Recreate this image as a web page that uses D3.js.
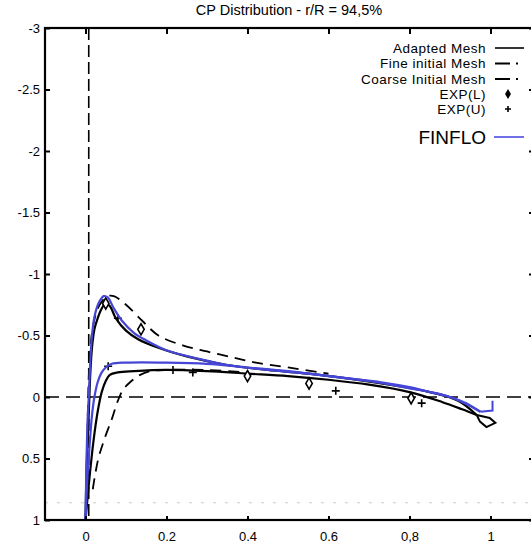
<!DOCTYPE html>
<html>
<head>
<meta charset="utf-8">
<script src="https://cdn.jsdelivr.net/npm/d3@7"></script>
<style>
  body { margin: 0; background: #fff; }
  svg { display: block; font-family: "Liberation Sans", Arial, sans-serif; }
</style>
</head>
<body>
<svg width="531" height="545"></svg>
<script>
// chart values: [x/c, Cp]
var xTicks = [0, 0.2, 0.4, 0.6, 0.8, 1];
var yTicks = [-3, -2.5, -2, -1.5, -1, -0.5, 0, 0.5, 1];

var adaptedUpper = [[0,1],[0.003,0.55],[0.006,0.3],[0.009,0.05],[0.012,-0.2],[0.016,-0.4],[0.022,-0.55],
  [0.03,-0.64],[0.04,-0.72],[0.05,-0.76],[0.06,-0.74],[0.075,-0.64],[0.1,-0.54],[0.13,-0.47],[0.18,-0.4],
  [0.25,-0.33],[0.35,-0.26],[0.45,-0.22],[0.55,-0.19],[0.65,-0.15],[0.75,-0.1],[0.85,-0.04],[0.92,0.03],[0.966,0.146]];
var adaptedLower = [[0,1],[0.01,0.65],[0.02,0.35],[0.03,0.12],[0.04,-0.04],[0.05,-0.13],[0.06,-0.18],[0.08,-0.2],
  [0.12,-0.21],[0.2,-0.22],[0.3,-0.21],[0.4,-0.19],[0.5,-0.17],[0.6,-0.14],[0.7,-0.1],[0.8,-0.04],[0.88,0.04],
  [0.93,0.1],[0.966,0.146]];
var adaptedTE = [[0.966,0.146],[0.998,0.17],[1.012,0.21],[0.99,0.245],[0.974,0.2],[0.966,0.146]];

var fineInitial = [[0.005,0.3],[0.01,-0.3],[0.02,-0.6],[0.035,-0.75],[0.055,-0.82],[0.07,-0.82],[0.1,-0.75],
  [0.14,-0.62],[0.18,-0.5],[0.24,-0.42],[0.3,-0.37],[0.365,-0.32],[0.42,-0.28],[0.5,-0.24],[0.6,-0.19]];
var coarseInitial = [[0.018,0.75],[0.031,0.51],[0.048,0.33],[0.066,0.17],[0.08,0.03],[0.093,-0.06],[0.11,-0.12],
  [0.135,-0.18],[0.16,-0.21],[0.2,-0.22],[0.3,-0.22],[0.4,-0.2]];

var expL = [[0.05,-0.76],[0.137,-0.55],[0.4,-0.17],[0.552,-0.11],[0.804,0.01]];
var expU = [[0.056,-0.25],[0.08,-0.64],[0.216,-0.22],[0.265,-0.2],[0.618,-0.05],[0.83,0.05]];

var finfloUpper = [[0,1],[0.002,0.6],[0.005,0.2],[0.008,0],[0.012,-0.3],[0.016,-0.5],[0.022,-0.65],[0.032,-0.76],
  [0.045,-0.82],[0.055,-0.81],[0.07,-0.72],[0.09,-0.62],[0.12,-0.52],[0.15,-0.46],[0.2,-0.38],[0.28,-0.31],
  [0.35,-0.26],[0.45,-0.22],[0.55,-0.19],[0.65,-0.15],[0.73,-0.12],[0.8,-0.08],[0.85,-0.04],[0.9,0.0],
  [0.94,0.05],[0.975,0.12]];
var finfloLower = [[0,1],[0.004,0.7],[0.01,0.4],[0.016,0.15],[0.022,0.0],[0.03,-0.12],[0.04,-0.2],[0.05,-0.24],
  [0.065,-0.27],[0.1,-0.28],[0.2,-0.28],[0.3,-0.27],[0.4,-0.24],[0.5,-0.21],[0.6,-0.17],[0.7,-0.13],
  [0.8,-0.07],[0.88,-0.02],[0.93,0.04],[0.975,0.12]];
var finfloTE = [[0.975,0.12],[1.005,0.11],[1.005,0.03]];

var legendNames = ['Adapted Mesh', 'Fine initial Mesh', 'Coarse Initial Mesh', 'EXP(L)', 'EXP(U)'];

var svg = d3.select('svg');
var blue = '#4646d6';

var ScaleX = d3.scaleLinear().domain([-0.1, 1.1]).range([45, 531]);
var ScaleY = d3.scaleLinear().domain([-3, 1]).range([28, 520]);

// title
svg.append('text')
    .attr('x', 289).attr('y', 15)
    .attr('text-anchor', 'middle')
    .style('font-size', '14.5px')
    .text('CP Distribution - r/R = 94,5%');

// reference lines
svg.append('line')
    .attr('x1', ScaleX(-0.1)).attr('x2', 531)
    .attr('y1', ScaleY(0)).attr('y2', ScaleY(0))
    .attr('stroke', '#000').attr('stroke-width', 1.6)
    .attr('stroke-dasharray', '14,7');
svg.append('line')
    .attr('x1', ScaleX(0.008)).attr('x2', ScaleX(0.008))
    .attr('y1', ScaleY(-3)).attr('y2', ScaleY(1))
    .attr('stroke', '#000').attr('stroke-width', 1.6)
    .attr('stroke-dasharray', '12,5');
svg.append('line')
    .attr('x1', ScaleX(-0.1)).attr('x2', 531)
    .attr('y1', ScaleY(0.86)).attr('y2', ScaleY(0.86))
    .attr('stroke', '#ccc').attr('stroke-width', 1)
    .attr('stroke-dasharray', '3,9');

var line = d3.line()
    .x(function(d){ return ScaleX(d[0]); })
    .y(function(d){ return ScaleY(d[1]); })
    .curve(d3.curveCatmullRom.alpha(0.5));
var straight = d3.line()
    .x(function(d){ return ScaleX(d[0]); })
    .y(function(d){ return ScaleY(d[1]); });

// dashed initial meshes
[fineInitial, coarseInitial].forEach(function(s){
    svg.append('path').datum(s)
        .attr('d', line)
        .attr('fill', 'none').attr('stroke', '#000')
        .attr('stroke-width', 1.8).attr('stroke-dasharray', '11,7');
});

// adapted mesh
[adaptedUpper, adaptedLower].forEach(function(s){
    svg.append('path').datum(s)
        .attr('d', line)
        .attr('fill', 'none').attr('stroke', '#000')
        .attr('stroke-width', 2.2);
});
svg.append('path').datum(adaptedTE)
    .attr('d', straight)
    .attr('fill', 'none').attr('stroke', '#000').attr('stroke-width', 2);

// experiments
svg.selectAll('.expL')
    .data(expL)
    .enter()
    .append('path')
    .attr('class', 'expL')
    .attr('transform', function(d){ return 'translate(' + ScaleX(d[0]) + ',' + ScaleY(d[1]) + ')'; })
    .attr('d', d3.symbol().type(d3.symbolDiamond).size(36))
    .attr('fill', '#fff').attr('stroke', '#000').attr('stroke-width', 1.6);
svg.selectAll('.expU')
    .data(expU)
    .enter()
    .append('path')
    .attr('class', 'expU')
    .attr('transform', function(d){ return 'translate(' + ScaleX(d[0]) + ',' + ScaleY(d[1]) + ')'; })
    .attr('d', 'M-4,0H4M0,-4V4')
    .attr('fill', 'none').attr('stroke', '#000').attr('stroke-width', 1.6);

// FINFLO
[finfloUpper, finfloLower].forEach(function(s){
    svg.append('path').datum(s)
        .attr('d', line)
        .attr('fill', 'none').attr('stroke', blue)
        .attr('stroke-width', 2.2);
});
svg.append('path').datum(finfloTE)
    .attr('d', straight)
    .attr('fill', 'none').attr('stroke', blue).attr('stroke-width', 2);

// frame and axes
svg.append('rect')
    .attr('x', 45).attr('y', ScaleY(-3))
    .attr('width', 489).attr('height', ScaleY(1) - ScaleY(-3))
    .attr('fill', 'none').attr('stroke', '#000').attr('stroke-width', 2.2);

var yAxis = svg.append('g')
    .attr('transform', 'translate(45,0)')
    .call(d3.axisLeft(ScaleY).tickValues(yTicks).tickSizeInner(-5).tickSizeOuter(0).tickPadding(5)
        .tickFormat(function(d){ return d; }));
var xAxis = svg.append('g')
    .attr('transform', 'translate(0,' + ScaleY(1) + ')')
    .call(d3.axisBottom(ScaleX).tickValues(xTicks).tickSizeInner(-4).tickSizeOuter(0).tickPadding(12)
        .tickFormat(function(d){ return d === 0.8 ? '0,8' : d; }));
svg.append('g')
    .attr('transform', 'translate(0,' + ScaleY(-3) + ')')
    .call(d3.axisTop(ScaleX).tickValues(xTicks).tickSizeInner(-6).tickSizeOuter(0).tickFormat(''));
svg.append('g')
    .attr('transform', 'translate(534,0)')
    .call(d3.axisRight(ScaleY).tickValues(yTicks).tickSizeInner(-5).tickSizeOuter(0).tickFormat(''));

svg.selectAll('.domain').remove();
svg.selectAll('.tick line').attr('stroke', '#000').attr('stroke-width', 2);
[yAxis, xAxis].forEach(function(a){
    a.selectAll('text')
        .style('font-size', '13px')
        .style('font-family', '"Liberation Sans", Arial, sans-serif')
        .attr('fill', '#000');
});

// legend
var legend = svg.append('g');
var legendY = [48, 63.5, 79, 94, 109];
legendNames.forEach(function(name, i){
    legend.append('text')
        .attr('x', 486).attr('y', legendY[i]).attr('dy', '0.35em')
        .attr('text-anchor', 'end')
        .style('font-size', '13.5px')
        .style('letter-spacing', '0.5px')
        .text(name);
});
legend.append('line').attr('x1', 495).attr('x2', 524).attr('y1', legendY[0]).attr('y2', legendY[0])
    .attr('stroke', '#000').attr('stroke-width', 1.6);
[1, 2].forEach(function(i){
    legend.append('line').attr('x1', 495).attr('x2', 523).attr('y1', legendY[i]).attr('y2', legendY[i])
        .attr('stroke', '#000').attr('stroke-width', 1.8).attr('stroke-dasharray', '15,6,2,10');
});
legend.append('path')
    .attr('transform', 'translate(508,' + legendY[3] + ')')
    .attr('d', d3.symbol().type(d3.symbolDiamond).size(30))
    .attr('fill', '#000');
legend.append('path')
    .attr('transform', 'translate(508,' + legendY[4] + ')')
    .attr('d', 'M-3,0H3M0,-3V3')
    .attr('stroke', '#000').attr('stroke-width', 1.6);
legend.append('text')
    .attr('x', 486).attr('y', 137).attr('dy', '0.35em')
    .attr('text-anchor', 'end')
    .style('font-size', '19px')
    .text('FINFLO');
legend.append('line').attr('x1', 494).attr('x2', 524).attr('y1', 137).attr('y2', 137)
    .attr('stroke', '#7070e8').attr('stroke-width', 2);
</script>
</body>
</html>
